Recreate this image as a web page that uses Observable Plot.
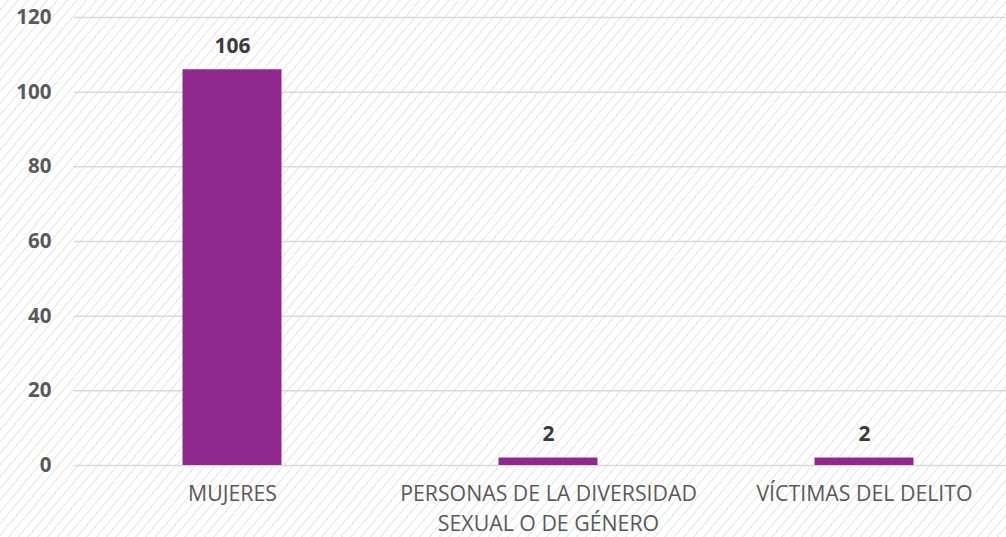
<!DOCTYPE html>
<html>
<head>
<meta charset="utf-8">
<script src="https://cdn.jsdelivr.net/npm/d3@7"></script>
<script src="https://cdn.jsdelivr.net/npm/@observablehq/plot@0.6"></script>
<style>
  html, body { margin: 0; padding: 0; background: #ffffff; }
  #chart {
    width: 1006px; height: 537px; overflow: hidden;
    background-color: #ffffff;
    background-image: repeating-linear-gradient(-50deg, rgba(0,0,0,0) 0px, rgba(0,0,0,0) 6px, rgba(215,215,215,0.45) 6px, rgba(215,215,215,0.45) 7.5px);
  }
  #chart svg { background: transparent !important; }
</style>
</head>
<body>
<div id="chart"></div>
<script>
const categories = ["MUJERES", "PERSONAS DE LA DIVERSIDAD SEXUAL O DE GÉNERO", "VÍCTIMAS DEL DELITO"];
const categoryLabels = ["MUJERES", "PERSONAS DE LA DIVERSIDAD\nSEXUAL O DE GÉNERO", "VÍCTIMAS DEL DELITO"];
const values = [106, 2, 2];
const yTicks = [0, 20, 40, 60, 80, 100, 120];

const data = categories.map((c, i) => ({category: c, value: values[i]}));
const labelOf = new Map(categories.map((c, i) => [c, categoryLabels[i]]));

const chart = Plot.plot({
  width: 1006,
  height: 537,
  marginTop: 17,
  marginBottom: 72,
  marginLeft: 74,
  marginRight: 0,
  style: {background: "transparent", fontFamily: "'Open Sans', sans-serif"},
  x: {domain: categories, range: [73.5, 1021.5], padding: 0},
  y: {domain: [0, 120]},
  marks: [
    Plot.ruleY(yTicks, {stroke: "#d9d9d9", strokeWidth: 1.5}),
    Plot.barY(data, {x: "category", y: "value", fill: "#8f278d", insetLeft: 108.5, insetRight: 108.5}),
    Plot.text(data, {x: "category", y: "value", text: d => String(d.value), dy: -24,
      fill: "#3a3a3a", fontSize: 21, fontWeight: "bold"}),
    Plot.axisY({ticks: yTicks, tickSize: 0, tickPadding: 23, fontSize: 20.5, fontWeight: "bold",
      fill: "#595959", label: null}),
    Plot.axisX({tickSize: 0, tickPadding: 15, fontSize: 21.3, fill: "#595959", label: null,
      lineHeight: 1.38, tickFormat: c => labelOf.get(c)})
  ]
});
document.getElementById("chart").append(chart);
</script>
</body>
</html>
